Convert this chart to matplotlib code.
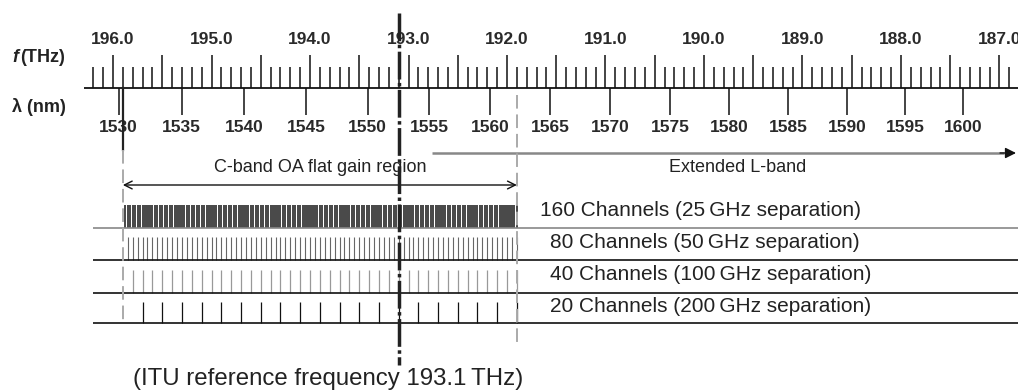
import numpy as np
import matplotlib
matplotlib.use("Agg")
import matplotlib.pyplot as plt
import matplotlib.transforms as mtransforms

plt.rcParams['font.family'] = ['Liberation Sans', 'DejaVu Sans']

# --- datos del plan de canales ---
freq_labels = [196.0, 195.0, 194.0, 193.0, 192.0, 191.0, 190.0, 189.0, 188.0, 187.0]
wavelengths = [1530, 1535, 1540, 1545, 1550, 1555, 1560, 1565, 1570, 1575,
               1580, 1585, 1590, 1595, 1600]
channel_counts = [160, 80, 40, 20]
spacings_ghz = [25, 50, 100, 200]
row_labels = ["160 Channels (25\u2009GHz separation)",
              "80 Channels (50\u2009GHz separation)",
              "40 Channels (100\u2009GHz separation)",
              "20 Channels (200\u2009GHz separation)"]
itu_ref = 193.1          # THz
cband_low = 191.9        # THz, primer canal de la banda C
cband_high = 195.9       # THz

C_LIGHT = 299792.458     # nm*THz

W, H = 1018, 391
fig = plt.figure(figsize=(W / 100, H / 100), dpi=100)
ax = fig.add_axes([0, 0, 1, 1])
# eje x en THz (invertido), eje y en pixeles desde arriba
ax.set_xlim(196 + 113 / 98.5, 196 - (W - 113) / 98.5)
ax.set_ylim(H, 0)
ax.axis('off')


def thz(x_px):
    # posicion horizontal en pixeles -> THz
    return 196 - (x_px - 113) / 98.5


# transformacion en pixeles para los textos
px = mtransforms.Affine2D().scale(1 / W, -1 / H).translate(0, 1) + fig.transFigure

# --- escala de frecuencia ---
AXIS_Y = 88
ax.plot([thz(84), thz(W)], [AXIS_Y, AXIS_Y], color='#111', lw=1.3, solid_capstyle='butt')
minor = np.round(np.arange(196.2, 186.85, -0.1), 1)
for f in minor:
    tall = abs(f * 2 - round(f * 2)) < 1e-6
    ax.plot([f, f], [55 if tall else 67, AXIS_Y], color='#111', lw=1.1,
            solid_capstyle='butt')
for f in freq_labels:
    ax.text(f, 40, f"{f:.1f}", ha='center', va='center', fontsize=12.5,
            fontweight='bold', color='#2a2a2a', clip_on=False)

# --- escala de longitud de onda ---
for wl in wavelengths:
    f = C_LIGHT / wl
    ax.plot([f, f], [AXIS_Y, 115], color='#111', lw=1.1, solid_capstyle='butt')
    ax.text(f, 127, str(wl), ha='center', va='center', fontsize=12.5,
            fontweight='bold', color='#2a2a2a')

ax.text(12, 58, "f", transform=px, ha='left', va='center', fontsize=13,
        fontweight='bold', style='italic', color='#222')
ax.text(20, 58, "(THz)", transform=px, ha='left', va='center', fontsize=13,
        fontweight='bold', color='#222')
ax.text(12, 107, "\u03bb (nm)", transform=px, ha='left', va='center', fontsize=13,
        fontweight='bold', color='#222')

# --- regiones ---
ax.annotate("", xy=(cband_high, 185), xytext=(cband_low, 185),
            arrowprops=dict(arrowstyle='<->', color='#111', lw=1.0,
                            shrinkA=0, shrinkB=0, mutation_scale=14))
ax.text(320, 167, "C-band OA flat gain region", transform=px, ha='center',
        va='center', fontsize=13, color='#222')

ax.plot([thz(432), thz(1004)], [153, 153], color='#888', lw=1.8,
        solid_capstyle='butt')
ax.annotate("", xy=(thz(1016), 153), xytext=(thz(1000), 153),
            arrowprops=dict(arrowstyle='-|>', color='#111', lw=1.0,
                            shrinkA=0, shrinkB=0, mutation_scale=16))
ax.text(738, 168, "Extended L-band", transform=px, ha='center', va='center',
        fontsize=13, color='#222')

# --- filas de canales ---
row_top = [205, 237, 270, 302]
row_base = [228, 260, 293, 323]
base_colors = ['#888', '#111', '#111', '#111']
x_left, x_right = thz(93), thz(W)

for i, (n, sp) in enumerate(zip(channel_counts, spacings_ghz)):
    step = sp / 1000.0
    chans = cband_low + step * np.arange(n)
    if i == 0:
        ax.bar(chans, row_base[i] - row_top[i], bottom=row_top[i], width=step * 0.85,
               color='#4a4a4a', linewidth=0, align='center')
    elif i == 1:
        ax.vlines(chans, row_top[i], row_base[i], color='#666', lw=0.8)
    elif i == 2:
        ax.vlines(chans, row_top[i], row_base[i], color='#999', lw=0.9)
    else:
        ax.vlines(chans, row_top[i], row_base[i], color='#111', lw=0.9)
    ax.plot([x_left, x_right], [row_base[i], row_base[i]], color=base_colors[i],
            lw=1.2, solid_capstyle='butt')

label_x = [540, 550, 550, 550]
label_y = [211, 243, 275, 307]
for lx, ly, txt in zip(label_x, label_y, row_labels):
    ax.text(lx, ly, txt, transform=px, ha='left', va='center', fontsize=15,
            color='#222')

# --- lineas verticales de referencia ---
ax.plot([cband_high, cband_high], [AXIS_Y, 150], color='#222', lw=1.6, zorder=5)
ax.plot([cband_high, cband_high], [150, 323], color='#aaa', lw=1.4,
        dashes=(7, 3), zorder=5)
ax.plot([cband_low, cband_low], [95, 345], color='#aaa', lw=1.4,
        dashes=(7, 3), zorder=5)
ax.plot([itu_ref, itu_ref], [13, 365], color='#222', lw=2.5,
        dashes=(8, 1, 1, 1), zorder=6)

ax.text(133, 379, "(ITU reference frequency 193.1\u2009THz)", transform=px,
        ha='left', va='center', fontsize=17.3, color='#222')

fig.savefig("out.png", dpi=100)
